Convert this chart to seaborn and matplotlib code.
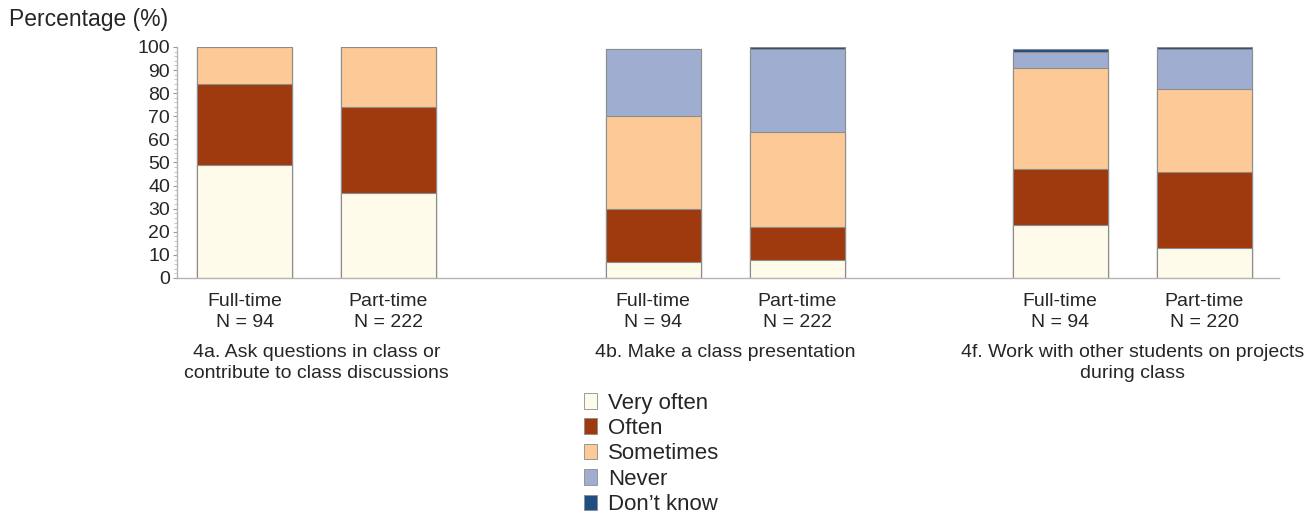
import numpy as np
import pandas as pd
import matplotlib.pyplot as plt
import matplotlib.transforms as mtransforms
from matplotlib.patches import Patch
from matplotlib.ticker import MultipleLocator
import seaborn as sns

sns.set_style('white')
plt.rcParams['font.family'] = ['Liberation Sans', 'DejaVu Sans']

# --- data ---
bar_labels = ['Full-time\nN = 94', 'Part-time\nN = 222',
              'Full-time\nN = 94', 'Part-time\nN = 222',
              'Full-time\nN = 94', 'Part-time\nN = 220']
group_labels = ['4a. Ask questions in class or\ncontribute to class discussions',
                '4b. Make a class presentation',
                '4f. Work with other students on projects\nduring class']
categories = ['Very often', 'Often', 'Sometimes', 'Never', "Don\u2019t know"]

very_often = [49, 37, 7, 8, 23, 13]
often = [35, 37, 23, 14, 24, 33]
sometimes = [16, 26, 40, 41, 44, 36]
never = [0, 0, 29, 36, 7, 17]
dont_know = [0, 0, 0, 1, 1, 1]

colors = ['#FEFBEB', '#9E3A0D', '#FDC997', '#9FAED0', '#1F4E82']

# bar positions: pairs with a wider gap between questions
positions = [0, 1, 2.84, 3.84, 5.67, 6.67]

series = [very_often, often, sometimes, never, dont_know]
cum = np.cumsum(np.array(series), axis=0)

fig = plt.figure(figsize=(13.15, 5.17), dpi=100)
ax = fig.add_axes([0.1346, 0.4623, 0.838, 0.4468])

# stacked bars: draw running totals from the top layer down
for i in range(len(categories) - 1, -1, -1):
    df = pd.DataFrame({'pos': positions, 'value': cum[i]})
    sns.barplot(data=df, x='pos', y='value', color=colors[i], saturation=1,
                width=0.66, native_scale=True, errorbar=None,
                edgecolor='#8c8c8c', linewidth=0.8, ax=ax)

ax.set_xlim(-0.47, 7.19)
ax.set_ylim(0, 100)
ax.yaxis.set_major_locator(MultipleLocator(10))
ax.yaxis.set_minor_locator(MultipleLocator(2))
ax.tick_params(axis='y', which='major', left=True, length=3, width=0.8,
               color='#999999', labelsize=14, pad=2)
ax.tick_params(axis='y', which='minor', left=True, length=2, width=0.6,
               color='#bbbbbb')
ax.set_xticks(positions)
ax.set_xticklabels(bar_labels, fontsize=14, linespacing=1.35)
ax.tick_params(axis='x', bottom=False, pad=7)
ax.set_xlabel('')
ax.set_ylabel('')

for side in ['top', 'right']:
    ax.spines[side].set_visible(False)
for side in ['left', 'bottom']:
    ax.spines[side].set_color('#b5b5b5')
    ax.spines[side].set_linewidth(1.0)

trans = mtransforms.blended_transform_factory(ax.transData, ax.transAxes)
for g, label in enumerate(group_labels):
    xc = (positions[2 * g] + positions[2 * g + 1]) / 2
    ax.text(xc, -0.285, label, transform=trans, ha='center', va='top',
            fontsize=14, linespacing=1.3)

fig.text(0.007, 0.962, 'Percentage (%)', fontsize=16.5, ha='left', va='center')

handles = [Patch(facecolor=c, edgecolor='#8c8c8c', linewidth=0.6) for c in colors]
fig.legend(handles, categories, loc='upper left', bbox_to_anchor=(0.437, 0.258),
           frameon=False, fontsize=16, handlelength=0.6, handleheight=0.7,
           handletextpad=0.5, labelspacing=0.2, borderaxespad=0)

fig.savefig('out.png', dpi=100)
